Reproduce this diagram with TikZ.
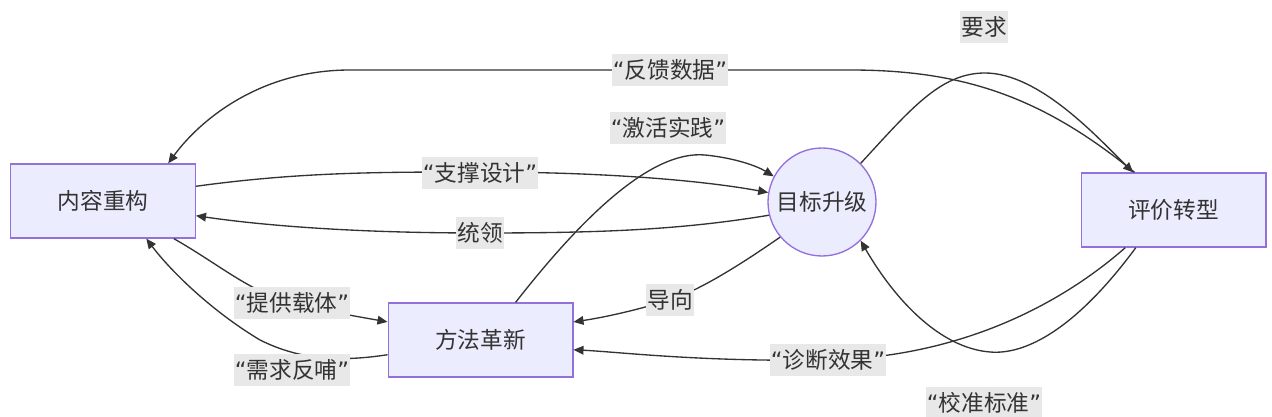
\documentclass[tikz,border=0pt]{standalone}
\usepackage{fontspec}
\setmainfont{Noto Sans CJK SC}
\newfontfamily\qfont{DejaVu Sans}
\usetikzlibrary{arrows.meta}
\definecolor{boxfill}{HTML}{ECECFF}
\definecolor{boxline}{HTML}{9370DB}
\definecolor{lbl}{HTML}{E8E8E8}
\definecolor{ink}{HTML}{333333}
\newcommand\qt[1]{{\qfont “}#1{\qfont ”}}
\begin{document}
\begin{tikzpicture}[x=0.75pt,y=-0.75pt, font=\fontsize{17}{20}\selectfont,
 stage/.style={draw=boxline, fill=boxfill, line width=1pt, minimum width=138.5pt, minimum height=55.5pt, text=ink},
 goalnode/.style={circle, draw=boxline, fill=boxfill, line width=1pt, minimum size=81pt, inner sep=0pt, text=ink},
 lab/.style={fill=lbl, inner xsep=1pt, inner ysep=4pt, text=ink},
 conn/.style={draw=ink, line width=1pt, -{Triangle[length=7.5pt,width=6.5pt]}},
 plain/.style={draw=ink, line width=1pt}]
\fill[white] (0,0) rectangle (1272,417);
\useasboundingbox (0,0) rectangle (1272,417);

\node[stage] (nr) at (103,201) {内容重构};
\node[stage] (ff) at (480.5,340) {方法革新};
\node[goalnode] (goal) at (822,202) {目标升级};
\node[stage] (pj) at (1173.5,210) {评价转型};

% 支撑设计
\draw[conn] (nr.9) .. controls (300,172) and (380,172) .. (480,172)
  .. controls (600,172) and (700,180) .. (goal.170);
% 统领
\draw[conn] (goal.194) .. controls (680,230) and (600,233) .. (480,233)
  .. controls (350,233) and (260,225) .. (nr.-9);
% 提供载体
\draw[conn] (nr.-28.2) .. controls (220,265) and (250,292) .. (292,303)
  .. controls (330,312) and (360,317) .. (ff.169);
% 需求反哺
\draw[conn] (ff.189) .. controls (340,362) and (300,360) .. (260,340)
  .. controls (210,310) and (170,270) .. (nr.-41.4);
% 激活实践
\draw[conn] (ff.47) .. controls (580,220) and (650,150) .. (705,155)
  .. controls (735,158) and (757,166) .. (goal.152);
% 导向
\draw[conn] (goal.220) .. controls (740,265) and (700,290) .. (670,300)
  .. controls (630,312) and (600,318) .. (ff.11);
% 诊断效果
\draw[conn] (pj.218.5) .. controls (1060,305) and (960,357) .. (828,360)
  .. controls (700,362) and (620,352) .. (ff.-6);
% 校准标准
\draw[conn] (pj.225.4) .. controls (1075,330) and (1025,355) .. (990,352)
  .. controls (940,348) and (895,300) .. (goal.-45);
% 要求
\draw[conn] (goal.45) .. controls (910,110) and (940,73) .. (985,73)
  .. controls (1040,73) and (1100,140) .. (pj.137.6);
% 反馈数据
\draw[conn] (pj.136) .. controls (1040,95) and (960,70) .. (850,70)
  -- (350,70) .. controls (260,70) and (200,120) .. (nr.30.8);

\node[lab] (l1) at (480,173) {\qt{支撑设计}};
\node[lab] (l2) at (480,233) {统领};
\node[lab] (l3) at (292,303) {\qt{提供载体}};
\node[lab] (l4) at (292,370) {\qt{需求反哺}};
\node[lab] (l5) at (668,128) {\qt{激活实践}};
\node[lab] (l6) at (670,300) {导向};
\node[lab] (l7) at (828,360) {\qt{诊断效果}};
\node[lab] (l8) at (984,403) {\qt{校准标准}};
\node[lab] (l9) at (984,27) {要求};
\node[lab] (l10) at (670,70) {\qt{反馈数据}};
\end{tikzpicture}
\end{document}
